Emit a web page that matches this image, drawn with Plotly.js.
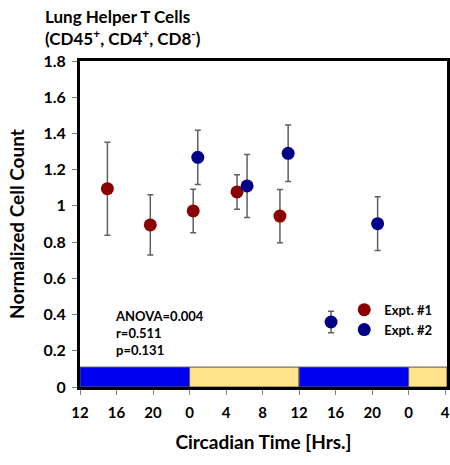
<!DOCTYPE html>
<html>
<head>
<meta charset="utf-8">
<script src="https://cdn.plot.ly/plotly-3.0.1.min.js"></script>
<style>html,body{margin:0;padding:0;background:#fff;}#chart{width:450px;height:465px;}</style>
</head>
<body>
<div id="chart"></div>
<script>
// Circadian time expressed as continuous hours (12 = CT12 of first cycle)
const tickHours = [12, 16, 20, 24, 28, 32, 36, 40, 44, 48, 52];
const tickLabels = ['12', '16', '20', '0', '4', '8', '12', '16', '20', '0', '4'];

const expt1Time = [15.0, 19.7, 24.4, 29.2, 33.9];
const expt1Value = [1.095, 0.895, 0.972, 1.077, 0.944];
const expt1Err = [0.257, 0.166, 0.120, 0.095, 0.147];

const expt2Time = [24.9, 30.3, 34.8, 39.5, 44.6];
const expt2Value = [1.268, 1.110, 1.290, 0.359, 0.902];
const expt2Err = [0.150, 0.174, 0.156, 0.059, 0.149];

// light/dark bar along the bottom
const phaseStart = [12, 24, 36, 48];
const phaseEnd = [24, 36, 48, 52.2];
const phaseColor = ['#0000F0', '#FFE38A', '#0000F0', '#FFE38A'];
const phaseHeight = 0.11;

const titleLines = ['Lung Helper T Cells', '(CD45<sup>+</sup>, CD4<sup>+</sup>, CD8<sup>-</sup>)'];
const statsLines = ['ANOVA=0.004', 'r=0.511', 'p=0.131'];

const fontFam = 'Lato, "Open Sans", sans-serif';

const phaseTrace = {
  type: 'bar',
  x: phaseStart.map((s, i) => (s + phaseEnd[i]) / 2),
  width: phaseStart.map((s, i) => phaseEnd[i] - s),
  y: phaseStart.map(() => phaseHeight),
  marker: {color: phaseColor, line: {color: '#555555', width: 1}},
  showlegend: false,
  hoverinfo: 'skip'
};

function expt(name, xs, ys, es, color) {
  return {
    type: 'scatter', mode: 'markers', name: name,
    x: xs, y: ys,
    error_y: {type: 'data', array: es, visible: true, color: '#606060', thickness: 1.5, width: 3},
    marker: {color: color, size: 13}
  };
}

const traces = [
  phaseTrace,
  expt('Expt. #1', expt1Time, expt1Value, expt1Err, '#8B0000'),
  expt('Expt. #2', expt2Time, expt2Value, expt2Err, '#00008B')
];

const yTicks = [0, 0.2, 0.4, 0.6, 0.8, 1, 1.2, 1.4, 1.6, 1.8];

const layout = {
  width: 450, height: 465,
  margin: {l: 80, r: 3, t: 61, b: 78},
  paper_bgcolor: '#ffffff', plot_bgcolor: '#ffffff',
  font: {family: fontFam, color: '#000000'},
  showlegend: true,
  xaxis: {
    range: [12, 52.2],
    tickvals: tickHours, ticktext: tickLabels,
    tickfont: {family: fontFam, size: 15, color: '#000', weight: 'bold'},
    ticks: 'outside', ticklen: 5, tickcolor: '#808080', tickwidth: 1,
    showgrid: false, zeroline: false,
    showline: true, linecolor: '#000', linewidth: 3, mirror: true,
    ticklabelstandoff: 5,
    ticklabeloverflow: 'allow',
    title: {text: '<b>Circadian Time [Hrs.]</b>', font: {family: fontFam, size: 19, color: '#000'}, standoff: 16},
    fixedrange: true
  },
  yaxis: {
    range: [0, 1.8],
    tickvals: yTicks, ticktext: yTicks.map(v => String(v)),
    tickfont: {family: fontFam, size: 16, color: '#000', weight: 'bold'},
    ticks: 'outside', ticklen: 5, tickcolor: '#808080', tickwidth: 1,
    showgrid: false, zeroline: false,
    showline: true, linecolor: '#000', linewidth: 3, mirror: true,
    ticklabelstandoff: 3,
    title: {text: '<b>Normalized Cell Count</b>', font: {family: fontFam, size: 19, color: '#000'}, standoff: 14},
    fixedrange: true
  },
  legend: {
    x: 0.72, y: 0.283, xanchor: 'left', yanchor: 'top',
    bgcolor: 'rgba(0,0,0,0)',
    font: {family: fontFam, size: 13, color: '#000', weight: 'bold'},
    itemwidth: 30, tracegroupgap: 0
  },
  annotations: [{
    xref: 'paper', yref: 'paper',
    x: (113 - 80) / 367, y: (387 - 306) / 326,
    xanchor: 'left', yanchor: 'top', align: 'left',
    showarrow: false,
    text: '<b>' + statsLines.join('<br>') + '</b>',
    font: {family: fontFam, size: 13, color: '#000'}
  }, {
    xref: 'paper', yref: 'paper',
    x: (43 - 80) / 367, y: (387 - 4) / 326,
    xanchor: 'left', yanchor: 'top', align: 'left',
    showarrow: false,
    text: '<b>' + titleLines.join('<br>') + '</b>',
    font: {family: fontFam, size: 17, color: '#000'}
  }],
  bargap: 0
};

Plotly.newPlot('chart', traces, layout, {displayModeBar: false, staticPlot: true});
</script>
</body>
</html>
